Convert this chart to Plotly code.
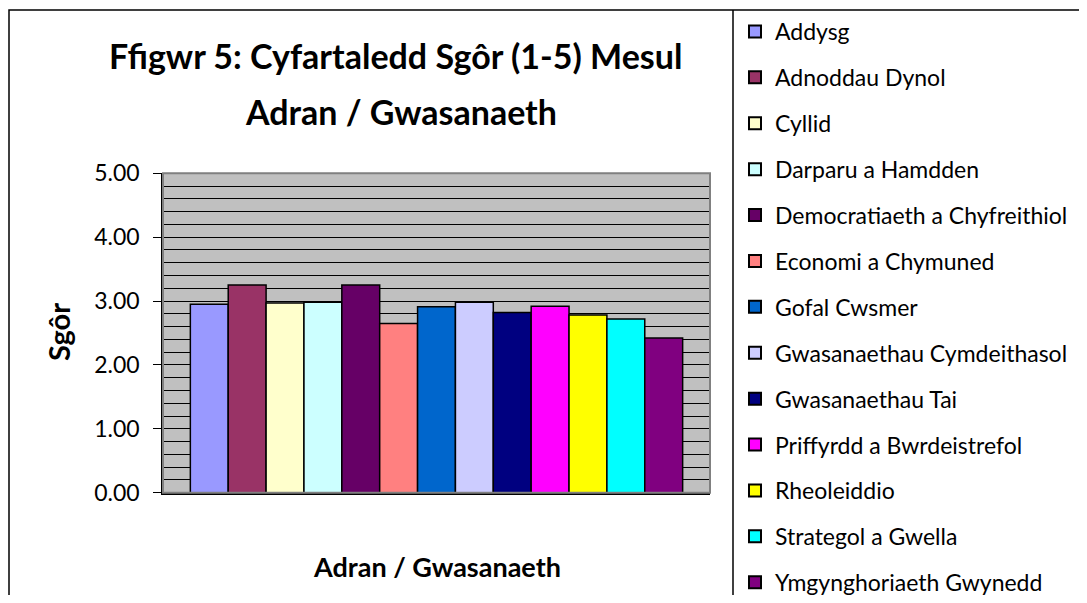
import plotly.graph_objects as go

# page is rendered with the browser's default 8px body margin
OFF = 8
W, H = 1087 - 2 * OFF, 603 - 2 * OFF

departments = [
    "Addysg", "Adnoddau Dynol", "Cyllid", "Darparu a Hamdden",
    "Democratiaeth a Chyfreithiol", "Economi a Chymuned", "Gofal Cwsmer",
    "Gwasanaethau Cymdeithasol", "Gwasanaethau Tai", "Priffyrdd a Bwrdeistrefol",
    "Rheoleiddio", "Strategol a Gwella", "Ymgynghoriaeth Gwynedd",
]
scores = [2.95, 3.25, 2.97, 2.98, 3.25, 2.65, 2.91, 2.98, 2.82, 2.92, 2.78, 2.72, 2.42]
colors = [
    "#9999FF", "#993366", "#FFFFCC", "#CCFFFF", "#660066", "#FF8080", "#0066CC",
    "#CCCCFF", "#000080", "#FF00FF", "#FFFF00", "#00FFFF", "#800080",
]
y_ticks = [0, 1, 2, 3, 4, 5]

FONT = "Lato"

fig = go.Figure()
for i, (name, val, col) in enumerate(zip(departments, scores, colors)):
    fig.add_trace(go.Bar(
        x=[""], y=[val], name=name, legendgroup=f"g{i}",
        marker=dict(color=col, line=dict(color="black", width=1.5)),
    ))


def px(x):
    return (x - OFF) / W


def py(y):
    return 1 - (y - OFF) / H


fig.update_layout(
    width=W, height=H,
    margin=dict(l=0, r=0, t=0, b=0, autoexpand=False),
    paper_bgcolor="white",
    plot_bgcolor="#C0C0C0",
    barmode="group", bargap=0.1, bargroupgap=0,
    font=dict(family=FONT, color="black", size=23),
    showlegend=True,
    legend=dict(
        x=px(735), y=py(10), xanchor="left", yanchor="top",
        bgcolor="rgba(0,0,0,0)", tracegroupgap=13, maxheight=900,
        font=dict(family=FONT, size=23, color="black"),
        itemsizing="constant",
    ),
    xaxis=dict(
        domain=[px(163), px(710)], showticklabels=False, ticks="",
        showline=True, linecolor="black", linewidth=1.5, showgrid=False,
        fixedrange=True,
    ),
    yaxis=dict(
        domain=[py(492.7), py(173.3)], range=[0, 5],
        tickvals=y_ticks, tickformat=".2f", ticks="outside", ticklen=8,
        tickcolor="black", ticklabelstandoff=9,
        tickfont=dict(family=FONT, size=23, color="black"),
        showline=True, linecolor="black", linewidth=1.5,
        showgrid=True, gridcolor="black", gridwidth=1,
        minor=dict(dtick=0.2, showgrid=True, gridcolor="black", gridwidth=1),
        zeroline=False,
    ),
)

# plot area border (top/right in grey)
fig.add_shape(type="rect", xref="paper", yref="paper",
              x0=px(163), x1=px(710), y0=py(492.7), y1=py(173.3),
              line=dict(color="#808080", width=2), layer="above")
# outer chart frame and legend divider
fig.add_shape(type="rect", xref="paper", yref="paper",
              x0=px(9), x1=px(1120), y0=py(640), y1=py(10),
              line=dict(color="black", width=1.5))
fig.add_shape(type="line", xref="paper", yref="paper",
              x0=px(733), x1=px(733), y0=py(640), y1=py(10),
              line=dict(color="black", width=1.5))

common = dict(xref="paper", yref="paper", showarrow=False,
              xanchor="center", yanchor="middle")
fig.add_annotation(text="<b>Ffigwr 5: Cyfartaledd Sgôr (1-5) Mesul</b>",
                   x=px(395), y=py(56), font=dict(family=FONT, size=34), **common)
fig.add_annotation(text="<b>Adran / Gwasanaeth</b>",
                   x=px(401), y=py(111), font=dict(family=FONT, size=34), **common)
fig.add_annotation(text="<b>Adran / Gwasanaeth</b>",
                   x=px(437), y=py(566), font=dict(family=FONT, size=27), **common)
fig.add_annotation(text="<b>Sgôr</b>", textangle=-90,
                   x=px(58), y=py(332), font=dict(family=FONT, size=29), **common)

fig.write_html("out.html")
